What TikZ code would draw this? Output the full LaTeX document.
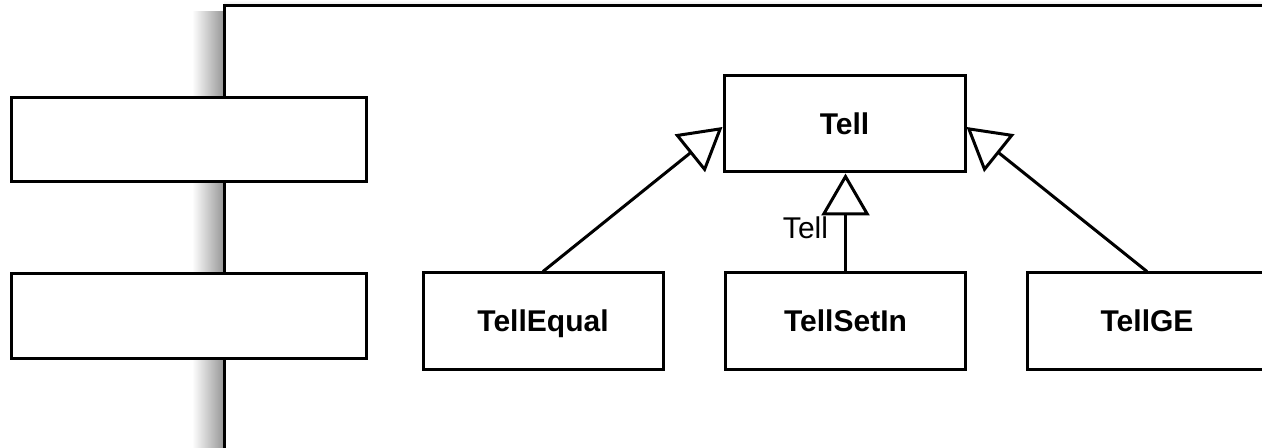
\documentclass[tikz,border=0pt]{standalone}
\usepackage{fontspec}
\setmainfont{Liberation Sans}
\usetikzlibrary{arrows.meta,calc}
\begin{document}
\begin{tikzpicture}[x=0.5pt,y=-0.5pt,
  cls/.style={draw=black,line width=1.5pt,fill=white,inner sep=0pt,
    minimum width=120pt,minimum height=48pt,text height=10.8pt,text depth=0pt,
    font=\fontsize{15}{18}\selectfont\bfseries},
  blank/.style={draw=black,line width=1.5pt,fill=white,inner sep=0pt,
    minimum width=177.5pt,minimum height=42pt},
  inherit/.style={draw=black,line width=1.5pt,-{Triangle[open,length=21pt,width=24pt,line width=1.5pt]}},
  lbl/.style={font=\fontsize{15}{18}\selectfont,inner sep=0pt}]
\useasboundingbox (0,0) rectangle (1262,448);
% frame shadow
\shade[left color=white,right color=black!40,draw=none] (192,12) rectangle (223,460);
\shade[top color=white,bottom color=black!8,draw=none] (224,0) rectangle (1280,5);
% frame
\draw[line width=1.5pt] (224,470) -- (224,6) -- (1290,6);
% left boxes
\node[blank] (lb1) at (188.5,140) {};
\node[blank] (lb2) at (188.5,316) {};
% classes
\node[cls,minimum width=120.5pt] (tell) at (844.5,124) {Tell};
\node[cls] (tellequal) at (543,321) {TellEqual};
\node[cls] (tellsetin) at (845.5,321) {TellSetIn};
\node[cls] (tellge) at (1147,321) {TellGE};
% connectors
\draw[inherit] (tellequal.north) -- ([yshift=-1.5pt]tell.west);
\draw[inherit] (tellge.north) -- ([yshift=-1.5pt]tell.east);
\draw[inherit] (tellsetin.north) -- (tellsetin.north |- tell.south) node[lbl,pos=0.45,left=8pt] {Tell};
\end{tikzpicture}
\end{document}
